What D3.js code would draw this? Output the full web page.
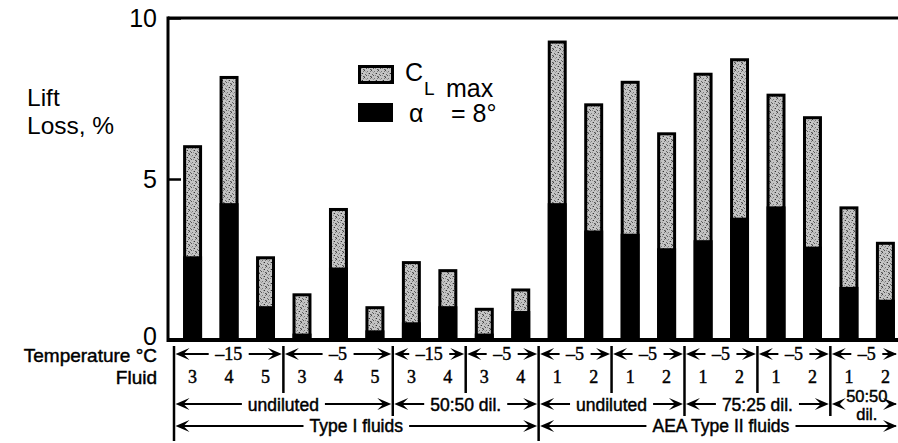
<!DOCTYPE html>
<html>
<head>
<meta charset="utf-8">
<script src="https://cdn.jsdelivr.net/npm/d3@7"></script>
<style>
  body { margin: 0; background: #fff; }
  text { font-family: "Liberation Sans", Arial, Helvetica, sans-serif; fill: #000; }
  .num { font-family: "Liberation Serif", "Times New Roman", serif; }
  .heavy { stroke: #000; stroke-width: 0.45px; }
</style>
</head>
<body>
<div id="chart"></div>
<script>
// values (lift loss, %)
var fluids = [3, 4, 5, 3, 4, 5, 3, 4, 3, 4, 1, 2, 1, 2, 1, 2, 1, 2, 1, 2];
var clmaxLoss = [6.05, 8.2, 2.6, 1.45, 4.1, 1.05, 2.45, 2.2, 1.0, 1.6,
                 9.3, 7.35, 8.05, 6.45, 8.3, 8.75, 7.65, 6.95, 4.15, 3.05];
var alphaLoss = [2.6, 4.25, 1.05, 0.2, 2.25, 0.3, 0.55, 1.05, 0.2, 0.9,
                 4.25, 3.4, 3.3, 2.85, 3.1, 3.8, 4.15, 2.9, 1.65, 1.25];
var yTicks = [0, 5, 10];

// grouping rows under the axis: [label, first bar, end bar]
var tempGroups = [["\u201315", 0, 3], ["\u20135", 3, 6], ["\u201315", 6, 8], ["\u20135", 8, 10],
                  ["\u20135", 10, 12], ["\u20135", 12, 14], ["\u20135", 14, 16], ["\u20135", 16, 18],
                  ["\u20135", 18, 20]];
var dilGroups = [["undiluted", 0, 6], ["50:50 dil.", 6, 10], ["undiluted", 10, 14],
                 ["75:25 dil.", 14, 18], ["50:50|dil.", 18, 20]];
var typeGroups = [["Type I fluids", 0, 10], ["AEA Type II fluids", 10, 20]];

var W = 898, H = 443;

var svg = d3.select("#chart").append("svg")
  .attr("width", W)
  .attr("height", H);

// stipple for the C_Lmax part
var defs = svg.append("defs");
var pat = defs.append("pattern")
  .attr("id", "stip")
  .attr("patternUnits", "userSpaceOnUse")
  .attr("width", 7).attr("height", 7);
pat.append("rect").attr("width", 7).attr("height", 7).attr("fill", "#c4c4c4");
[[0,0,"#444"],[3,1,"#777"],[5,3,"#333"],[1,4,"#666"],[4,5,"#888"],[6,6,"#555"],[2,2,"#999"],
 [0,6,"#888"],[6,1,"#777"],[2,5,"#555"],[4,3,"#999"],[1,1,"#aaa"]]
  .forEach(function(p) {
    pat.append("rect").attr("x", p[0]).attr("y", p[1]).attr("width", 1).attr("height", 1).attr("fill", p[2]);
  });

var x = d3.scaleBand()
  .domain(d3.range(fluids.length))
  .range([174, 904])
  .paddingInner(0.48)
  .paddingOuter(0.25);

var y = d3.scaleLinear()
  .domain([0, 10])
  .range([340, 18]);

function boundary(i) {
  return x.range()[0] + i * x.step();
}

var frameLeft = 168;

// bars
var bars = svg.append("g").attr("class", "bars");
bars.selectAll(".cl")
  .data(clmaxLoss)
  .enter().append("rect")
  .attr("class", "cl")
  .attr("x", function(d, i) { return x(i) + 1.5; })
  .attr("width", x.bandwidth() - 3)
  .attr("y", function(d) { return y(d) + 1.5; })
  .attr("height", function(d) { return y(0) - y(d) - 1.5; })
  .attr("fill", "url(#stip)")
  .attr("stroke", "#000")
  .attr("stroke-width", 3);

bars.selectAll(".al")
  .data(alphaLoss)
  .enter().append("rect")
  .attr("class", "al")
  .attr("x", function(d, i) { return x(i); })
  .attr("width", x.bandwidth())
  .attr("y", function(d) { return y(d); })
  .attr("height", function(d) { return y(0) - y(d); })
  .attr("fill", "#000");

// frame
svg.append("line")
  .attr("x1", frameLeft).attr("x2", W)
  .attr("y1", y(10)).attr("y2", y(10))
  .attr("stroke", "#000").attr("stroke-width", 3);
svg.append("line")
  .attr("x1", frameLeft).attr("x2", W)
  .attr("y1", y(0)).attr("y2", y(0))
  .attr("stroke", "#000").attr("stroke-width", 4);
svg.append("line")
  .attr("x1", frameLeft).attr("x2", frameLeft)
  .attr("y1", y(10) - 1.5).attr("y2", y(0) + 2)
  .attr("stroke", "#000").attr("stroke-width", 3);

// y axis labels, ticks pointing inward
var yAxis = d3.axisLeft(y).tickValues(yTicks).tickSizeInner(-13).tickSizeOuter(0).tickPadding(11);
var ya = svg.append("g")
  .attr("transform", "translate(" + frameLeft + ",0)")
  .call(yAxis);
ya.select(".domain").remove();
ya.selectAll("line").attr("stroke", "#000").attr("stroke-width", 2.5);
ya.selectAll("text")
  .attr("font-size", 25)
  .attr("font-family", null)
  .attr("dy", function(d) { return d === 0 ? "0.16em" : "0.32em"; });

// y title
svg.append("text").attr("x", 27).attr("y", 106).attr("font-size", 24.5).text("Lift");
svg.append("text").attr("x", 27).attr("y", 134).attr("font-size", 24.5).text("Loss, %");

// legend
var lg = svg.append("g");
lg.append("rect").attr("x", 359.5).attr("y", 66.5).attr("width", 33).attr("height", 16)
  .attr("fill", "url(#stip)").attr("stroke", "#000").attr("stroke-width", 3);
lg.append("rect").attr("x", 358).attr("y", 103).attr("width", 35).attr("height", 19).attr("fill", "#000");
lg.append("text").attr("x", 405).attr("y", 81).attr("font-size", 25).text("C");
lg.append("text").attr("x", 424).attr("y", 95).attr("font-size", 19).text("L");
lg.append("text").attr("x", 446).attr("y", 97).attr("font-size", 25).text("max");
lg.append("text").attr("x", 409).attr("y", 122).attr("font-size", 25).text("\u03b1");
lg.append("text").attr("x", 451).attr("y", 122).attr("font-size", 25).text("= 8\u00b0");

// annotation rows under the axis
var ann = svg.append("g");
ann.append("text").attr("class", "heavy").attr("x", 157).attr("y", 362).attr("text-anchor", "end")
  .attr("font-size", 19).text("Temperature \u00b0C");
ann.append("text").attr("class", "heavy").attr("x", 157).attr("y", 384).attr("text-anchor", "end")
  .attr("font-size", 19).text("Fluid");

ann.selectAll(".fl")
  .data(fluids)
  .enter().append("text")
  .attr("class", "num heavy fl")
  .attr("x", function(d, i) { return x(i) + x.bandwidth() / 2; })
  .attr("y", 383)
  .attr("text-anchor", "middle")
  .attr("font-size", 18)
  .text(function(d) { return d; });

function arrowHead(g, tipX, yy, dir) {
  // dir = -1 points left, +1 points right
  var L = 14, w = 6, n = 8;
  var p = "M" + tipX + "," + yy +
    "L" + (tipX - dir * L) + "," + (yy - w) +
    "L" + (tipX - dir * n) + "," + yy +
    "L" + (tipX - dir * L) + "," + (yy + w) + "Z";
  g.append("path").attr("d", p).attr("fill", "#000");
}

function spanRow(groups, lineY, textY, cls, size, lineH) {
  groups.forEach(function(gr) {
    var x0 = boundary(gr[1]) + 1.5, x1 = boundary(gr[2]) - 1.5;
    var mid = (x0 + x1) / 2;
    var g = ann.append("g");
    var lines = gr[0].split("|");
    var many = lines.length > 1;
    var t = g.append("text")
      .attr("class", cls + " heavy")
      .attr("x", mid)
      .attr("text-anchor", "middle")
      .attr("font-size", many ? size - 1 : size);
    lines.forEach(function(s, k) {
      t.append("tspan").attr("x", mid)
        .attr("y", many ? textY - lineH / 2 + k * lineH : textY)
        .text(s);
    });
    var tw = t.node().getBBox().width;
    var gap = 6;
    var left = mid - tw / 2 - gap, right = mid + tw / 2 + gap;
    if (left > x0 + 4) {
      g.append("line").attr("x1", x0 + 6).attr("x2", left).attr("y1", lineY).attr("y2", lineY)
        .attr("stroke", "#000").attr("stroke-width", 2);
    }
    arrowHead(g, x0, lineY, -1);
    if (right < x1 - 4) {
      g.append("line").attr("x1", right).attr("x2", x1 - 6).attr("y1", lineY).attr("y2", lineY)
        .attr("stroke", "#000").attr("stroke-width", 2);
    }
    arrowHead(g, Math.min(x1, W - 1), lineY, 1);
  });
}

spanRow(tempGroups, 354, 360, "num", 18, 0);
spanRow(dilGroups, 404, 411, "", 17.5, 18.5);
spanRow(typeGroups, 426, 432, "", 17.5, 0);

// separators
function sep(i, y2) {
  ann.append("line")
    .attr("x1", boundary(i)).attr("x2", boundary(i))
    .attr("y1", 346).attr("y2", y2)
    .attr("stroke", "#000").attr("stroke-width", 2.5);
}
[0, 10].forEach(function(i) { sep(i, 441); });
[6, 14, 18].forEach(function(i) { sep(i, 416); });
[3, 8, 12, 16].forEach(function(i) { sep(i, 393); });
</script>
</body>
</html>
